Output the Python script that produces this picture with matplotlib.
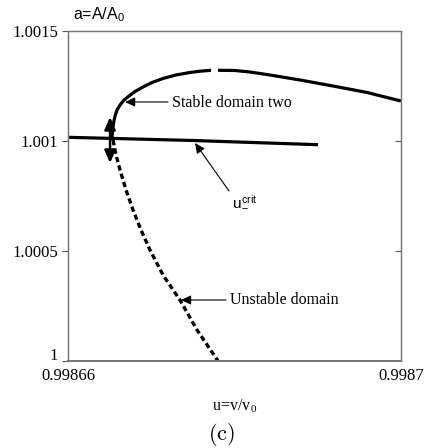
import matplotlib
matplotlib.use("Agg")
import matplotlib.pyplot as plt
import matplotlib.transforms as mtransforms

plt.rcParams['mathtext.fontset'] = 'cm'
SERIF = ['Liberation Serif', 'DejaVu Serif']
SANS = ['Liberation Sans', 'DejaVu Sans']

# ---- data (u = v/v0, a = A/A0) ----
stable_u_left = [0.99866529, 0.99866535, 0.99866547, 0.99866565, 0.99866589, 0.99866625,
                 0.99866673, 0.99866733, 0.99866805, 0.99866901, 0.99867009, 0.99867141,
                 0.99867297, 0.99867465, 0.99867586, 0.99867718]
stable_a_left = [1.0010182, 1.0010500, 1.0010818, 1.0011136, 1.0011409, 1.0011636,
                 1.0011864, 1.0012045, 1.0012250, 1.0012455, 1.0012659, 1.0012841,
                 1.0013000, 1.0013114, 1.0013173, 1.0013214]
stable_u_right = [0.99867802, 0.99868006, 0.99868186, 0.99868426, 0.99868787, 0.99869183,
                  0.99869592, 0.99870000]
stable_a_right = [1.0013214, 1.0013205, 1.0013136, 1.0013000, 1.0012773, 1.0012500,
                  1.0012205, 1.0011818]
unstable_u = [0.99866541, 0.99866577, 0.99866625, 0.99866697, 0.99866781, 0.99866877,
              0.99866985, 0.99867141, 0.99867345, 0.99867550, 0.99867802]
unstable_a = [1.0010045, 1.0009364, 1.0008682, 1.0007773, 1.0006864, 1.0005955,
              1.0005045, 1.0003909, 1.0002773, 1.0001409, 1.0000000]
crit_u = [0.99866000, 0.99867502, 0.99869003]
crit_a = [1.0010168, 1.0010023, 1.0009832]

y_ticks = [1.0, 1.0005, 1.001, 1.0015]
y_ticklabels = ['1', '1.0005', '1.001', '1.0015']
x_ticks = [0.99866, 0.9987]
x_ticklabels = ['0.99866', '0.9987']

fig = plt.figure(figsize=(4.29, 4.48), dpi=100)
ax = fig.add_axes([68/429, 1-361/448, 333/429, 330/448])

ax.plot(stable_u_left, stable_a_left, color='black', lw=2.3, solid_capstyle='butt')
ax.plot(stable_u_right, stable_a_right, color='black', lw=2.3, solid_capstyle='butt')
ax.plot(crit_u, crit_a, color='black', lw=2.3, solid_capstyle='butt')
ax.plot(unstable_u, unstable_a, color='black', lw=2.4, linestyle=(0, (1.6, 1.0)))

ax.set_xlim(0.99866, 0.9987)
ax.set_ylim(1.0, 1.0015)

ax.set_yticks(y_ticks)
ax.set_yticklabels(y_ticklabels, fontfamily=SERIF, fontsize=12)
ax.set_xticks(x_ticks)
ax.set_xticklabels(x_ticklabels, fontfamily=SERIF, fontsize=12)
ax.tick_params(axis='y', direction='out', length=4, width=0.8, color='#555555', pad=3)
ax.tick_params(axis='x', length=0, pad=5)
# lift the "1" label a little so it sits above the x label, as in the reference
lbl0 = ax.get_yticklabels()[0]
lbl0.set_transform(lbl0.get_transform() +
                   mtransforms.ScaledTranslation(0, 5/72, fig.dpi_scale_trans))

ax2 = ax.twinx()
ax2.set_ylim(1.0, 1.0015)
ax2.set_yticks([1.0005, 1.001])
ax2.set_yticklabels([])
ax2.tick_params(axis='y', direction='in', length=4, width=0.8, color='#555555')

for a_ in (ax, ax2):
    a_.spines['left'].set_linestyle((0, (2, 1)))
    a_.spines['top'].set_linestyle((0, (3, 1)))
    for s in a_.spines.values():
        s.set_color('#777777')
        s.set_linewidth(0.9)
    a_.spines['bottom'].set_linewidth(1.4)

arrow_small = dict(arrowstyle='-|>,head_length=0.6,head_width=0.28', color='black', lw=0.8,
                   shrinkA=0, shrinkB=0)
arrow_big = dict(arrowstyle='-|>,head_length=0.75,head_width=0.33', color='black', lw=1.8,
                 shrinkA=0, shrinkB=0)

# Stable domain two
ax.annotate('', xy=(0.99866685, 1.0011773), xytext=(0.99867201, 1.0011773), arrowprops=arrow_small)
ax.text(0.99867249, 1.0011727, 'Stable domain two', fontfamily=SERIF, fontsize=11.5,
        ha='left', va='center')

# Unstable domain
ax.annotate('', xy=(0.99867357, 1.0002773), xytext=(0.99867898, 1.0002773), arrowprops=arrow_small)
ax.text(0.99867946, 1.0002773, 'Unstable domain', fontfamily=SERIF, fontsize=11.5,
        ha='left', va='center')

# u crit
ax.annotate('', xy=(0.99867526, 1.0009909), xytext=(0.99867934, 1.0007727), arrowprops=arrow_small)
ax.text(0.99867970, 1.0007273, r'$\mathregular{u}^{\mathregular{crit}}_{\mathregular{-}}$',
        fontfamily=SANS, fontsize=11, ha='left', va='center')

# double arrow
ax.annotate('', xy=(0.99866505, 1.0011091), xytext=(0.99866505, 1.0010045), arrowprops=arrow_big)
ax.annotate('', xy=(0.99866505, 1.0009000), xytext=(0.99866505, 1.0010045), arrowprops=arrow_big)

fig.text(73/429, 1-15/448, r'a=A/A$_\mathregular{0}$', fontfamily=SANS, fontsize=11.5,
         ha='left', va='center')
fig.text(235/429, 1-406/448, r'u=v/v$_\mathregular{0}$', fontfamily=SERIF, fontsize=11.5,
         ha='center', va='center')
fig.text(221/429, 1-434/448, r'$(\mathrm{c})$', fontsize=16, ha='center', va='center')

fig.savefig('out.png', dpi=100)
